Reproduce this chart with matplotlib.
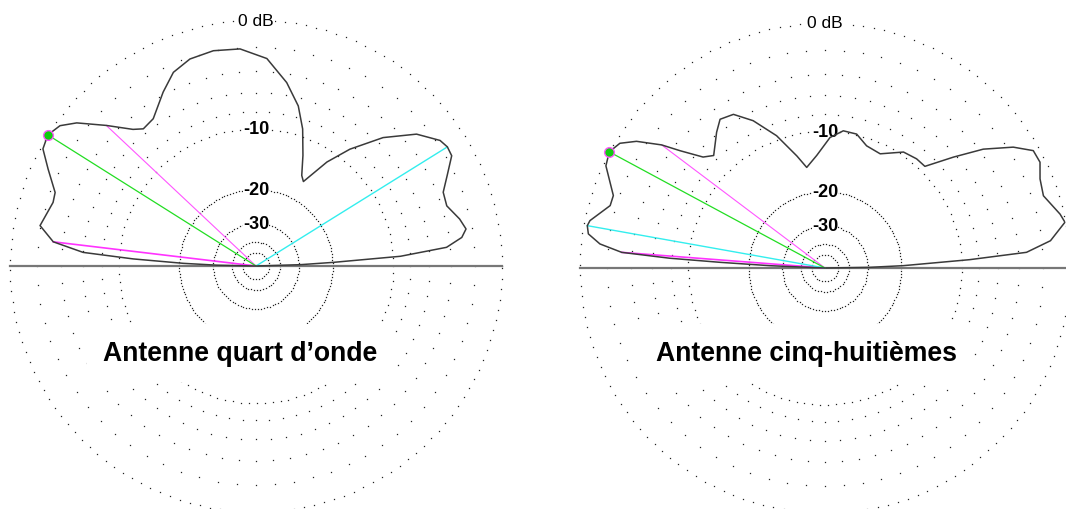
import numpy as np
import matplotlib.pyplot as plt

plt.rcParams['font.family'] = ['Liberation Sans', 'DejaVu Sans']

# elevation patterns: angle (deg, 0 = right horizon) / gain (dB)
qw_angle = [0, 1.7, 2.7, 3.85, 5.6, 7.9, 10.0, 13.0, 17.5, 21.5, 25.3, 29.4, 31.9,
            34.3, 39.4, 45.3, 51.2, 55.7, 60.7, 63.2, 67.0, 71.2, 75.2, 80.5, 87.0,
            94.2, 101.2, 107.7, 113.1, 118.1, 124.9, 129.4, 132.0, 136.8, 141.4,
            144.4, 147.8, 151.2, 155.0, 159.9, 162.6, 169.4, 173.2, 175.5, 176.7,
            177.9, 178.8, 180]
qw_db = [-99, -29.5, -19.8, -9.1, -4.3, -2.9, -2.45, -2.8, -3.55, -3.45, -2.6, -1.56, -1.5,
         -1.7, -2.9, -5.3, -8.5, -11.5, -16.0, -15.2, -12.3, -9.1, -6.8, -4.8, -2.9,
         -2.1, -1.96, -2.13, -2.67, -3.8, -5.4, -5.6, -5.0, -3.1, -1.2,
         -0.35, 0.0, -0.2, -1.2, -2.4, -2.5, -1.94, -3.2, -6.0, -11.9,
         -20.9, -31.5, -99]

fh_angle = [0, 0.9, 1.7, 3.3, 4.45, 6.9, 10.8, 12.9, 18.3, 22.5, 26.2, 29.4, 32.7,
            36.9, 40.8, 45.5, 50.0, 55.9, 64.2, 71.2, 76.7, 82.4, 87.8, 94.2, 100.3,
            104.1, 110.1, 116.0, 120.8, 125.2, 128.6, 134.7, 137.7, 141.0, 143.0,
            146.1, 148.7, 151.7, 155.0, 161.1, 163.8, 168.6, 169.9, 171.8, 173.9,
            175.6, 176.4, 176.9, 177.6, 180]
fh_db = [-99, -29.0, -19.6, -9.0, -3.3, -1.3, -0.05, -0.27, -1.08, -0.88, -0.38, -0.42, -1.56,
         -3.66, -6.3, -9.3, -9.3, -9.6, -11.3, -11.0, -9.9, -9.8, -10.8, -13.3, -15.0,
         -12.9, -9.5, -6.9, -5.4, -5.1, -5.9, -7.5, -6.8, -4.7, -3.1,
         -1.3, -0.35, 0.0, -0.23, -1.56, -1.56, -0.37, -0.25, -0.42, -1.36,
         -3.15, -7.8, -14.5, -25.6, -99]

# cursor rays: max (green), -3 dB points (magenta), marker (cyan)
qw_max = (147.8, 0.0)
qw_half = [(136.8, -3.1), (173.2, -3.2)]
qw_cursor = (31.9, -1.5)

fh_max = (151.7, 0.0)
fh_half = [(143.0, -3.1), (175.6, -3.15)]
fh_cursor = (169.9, -0.25)

major_rings = [0, -10, -20, -30, -40, -50]
minor_rings = [-2, -4, -6, -8]
ring_labels = [-10, -20, -30]

titles = ["Antenne quart d\u2019onde", "Antenne cinq-huiti\u00e8mes"]


def arrl(db):
    # ARRL log scale: radius drops by 0.89 every 2 dB
    return 0.89 ** (-np.asarray(db, dtype=float) / 2)


def panel(ax, angle, db, vmax, half, cursor, radius_px):
    ax.set_axis_off()
    ax.set_ylim(0, 1)

    # dotted grid
    for lev in major_rings:
        r = arrl(lev)
        step = 3.0 / (r * radius_px) if lev < 0 else 10.5 / radius_px
        if lev == -10:
            step = 8.0 / (r * radius_px)
        th = np.arange(0, 2 * np.pi, step)
        ax.plot(th, np.full_like(th, r), ls='none', marker='s', ms=0.9, mew=0,
                color='#222222', clip_on=False, zorder=1)
    for lev in minor_rings:
        th = np.radians(np.arange(0, 360, 5))
        ax.plot(th, np.full_like(th, arrl(lev)), ls='none', marker='s', ms=0.9, mew=0,
                color='#222222', clip_on=False, zorder=1)

    # horizon
    ax.plot([0, np.pi], [1, 1], color='#777777', lw=1.6, zorder=2, clip_on=False)

    # rays
    a, d = half[0]
    ax.plot([0, np.radians(a)], [0, arrl(d)], color='#ff55ff', lw=0.8, zorder=3)
    a, d = half[1]
    ax.plot([0, np.radians(a)], [0, arrl(d)], color='#ff33ff', lw=1.2, zorder=3)
    ax.plot([0, np.radians(cursor[0])], [0, arrl(cursor[1])], color='#33eeee',
            lw=1.0, zorder=3)
    ax.plot([0, np.radians(vmax[0])], [0, arrl(vmax[1])], color='#22dd22',
            lw=0.9, zorder=3)

    # labels
    ax.text(np.pi / 2, 1.0, "0 dB", ha='center', va='center', fontsize=12.5,
            bbox=dict(facecolor='white', edgecolor='none', pad=0.5), zorder=4)
    for lev in ring_labels:
        ax.text(np.pi / 2, arrl(lev), f"{lev}", ha='center', va='center',
                fontsize=13, fontweight='bold',
                bbox=dict(facecolor='white', edgecolor='none', pad=0.3), zorder=4)

    # pattern
    ax.plot(np.radians(angle), arrl(db), color='#3a3a3a', lw=1.1, zorder=5)
    ax.plot(np.radians(vmax[0]), arrl(vmax[1]), marker='o', ms=7, mfc='#11cc11',
            mec='#ff55ff', mew=1, zorder=6, clip_on=False)


W, H = 1066, 510
fig = plt.figure(figsize=(W / 100, H / 100), dpi=100)

# left: centre (256, 267) px, radius 246 px ; right: centre (825, 269), radius 245
ax1 = fig.add_axes([(256 - 246) / W, (H - 267 - 246) / H, 492 / W, 492 / H],
                   projection='polar')
ax2 = fig.add_axes([(825 - 245) / W, (H - 269 - 245) / H, 490 / W, 490 / H],
                   projection='polar')

panel(ax1, qw_angle, qw_db, qw_max, qw_half, qw_cursor, 246)
panel(ax2, fh_angle, fh_db, fh_max, fh_half, fh_cursor, 245)

box = dict(facecolor='white', edgecolor='none', boxstyle='square,pad=0.6')
fig.text(240 / W, 1 - 361 / H, titles[0], ha='center', va='baseline',
         fontsize=19.2, fontweight='bold', bbox=box, zorder=10)
fig.text(806 / W, 1 - 361 / H, titles[1], ha='center', va='baseline',
         fontsize=19.2, fontweight='bold', bbox=box, zorder=10)

fig.savefig('out.png', dpi=100, facecolor='white')
